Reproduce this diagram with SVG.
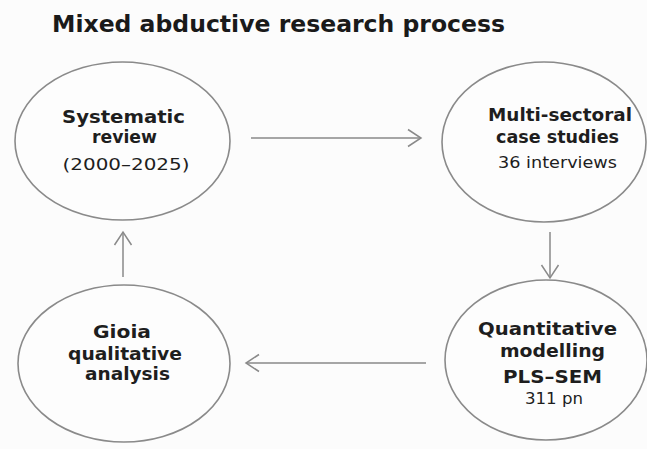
<svg xmlns="http://www.w3.org/2000/svg" width="647" height="449" viewBox="0 0 647 449">
<defs>
<marker id="arr" markerWidth="16" markerHeight="20" refX="14" refY="10" orient="auto" markerUnits="userSpaceOnUse">
<path d="M1,1.5 L14,10 L1,18.5" fill="none" stroke="#8a8a8a" stroke-width="1.5"/>
</marker>
</defs>
<style>
.node{fill:#fdfdfd;stroke:#8a8a8a;stroke-width:1.6}
.b{font-family:"DejaVu Sans","Liberation Sans",sans-serif;font-weight:bold;font-size:18.5px;fill:#1e1e1e;text-anchor:middle}
.r{font-family:"DejaVu Sans","Liberation Sans",sans-serif;font-size:15.5px;fill:#1e1e1e;text-anchor:middle}
.c{fill:none;stroke:#8a8a8a;stroke-width:1.5;marker-end:url(#arr)}
</style>
<rect width="647" height="449" fill="#fcfcfc"/>
<text x="278.5" y="32" font-family="'DejaVu Sans','Liberation Sans',sans-serif" font-weight="bold" font-size="23.5" fill="#1a1a1a" text-anchor="middle" textLength="453" lengthAdjust="spacingAndGlyphs">Mixed abductive research process</text>
<g id="connectors">
<line class="c" x1="251" y1="138" x2="421" y2="138"/>
<line class="c" x1="550" y1="232" x2="550" y2="278"/>
<line class="c" x1="426" y1="363" x2="246" y2="363"/>
<line class="c" x1="123" y1="277" x2="123" y2="232"/>
</g>
<g id="systematic-review">
<ellipse class="node" cx="122.5" cy="141" rx="107.5" ry="79"/>
<text class="b" x="123.5" y="123" textLength="123" lengthAdjust="spacingAndGlyphs">Systematic</text>
<text class="b" x="124.5" y="143" textLength="65" lengthAdjust="spacingAndGlyphs">review</text>
<text class="r" x="126" y="170" textLength="127" lengthAdjust="spacingAndGlyphs">(2000–2025)</text>
</g>
<g id="case-studies">
<ellipse class="node" cx="544" cy="142" rx="102" ry="80"/>
<text class="b" x="560" y="121" textLength="144" lengthAdjust="spacingAndGlyphs">Multi-sectoral</text>
<text class="b" x="557.5" y="143" textLength="123" lengthAdjust="spacingAndGlyphs">case studies</text>
<text class="r" x="557.5" y="168" textLength="119" lengthAdjust="spacingAndGlyphs">36 interviews</text>
</g>
<g id="quantitative-modelling">
<ellipse class="node" cx="546" cy="360" rx="101" ry="80"/>
<text class="b" x="547.5" y="335" textLength="139" lengthAdjust="spacingAndGlyphs">Quantitative</text>
<text class="b" x="552.5" y="357" textLength="105" lengthAdjust="spacingAndGlyphs">modelling</text>
<text class="b" x="552.5" y="383" textLength="99" lengthAdjust="spacingAndGlyphs">PLS–SEM</text>
<text class="r" x="554" y="404" textLength="58" lengthAdjust="spacingAndGlyphs">311 pn</text>
</g>
<g id="gioia-analysis">
<ellipse class="node" cx="124" cy="363.5" rx="106" ry="78.5"/>
<text class="b" x="122" y="338" textLength="58" lengthAdjust="spacingAndGlyphs">Gioia</text>
<text class="b" x="125" y="360" textLength="114" lengthAdjust="spacingAndGlyphs">qualitative</text>
<text class="b" x="127.5" y="380" textLength="85" lengthAdjust="spacingAndGlyphs">analysis</text>
</g>
</svg>
